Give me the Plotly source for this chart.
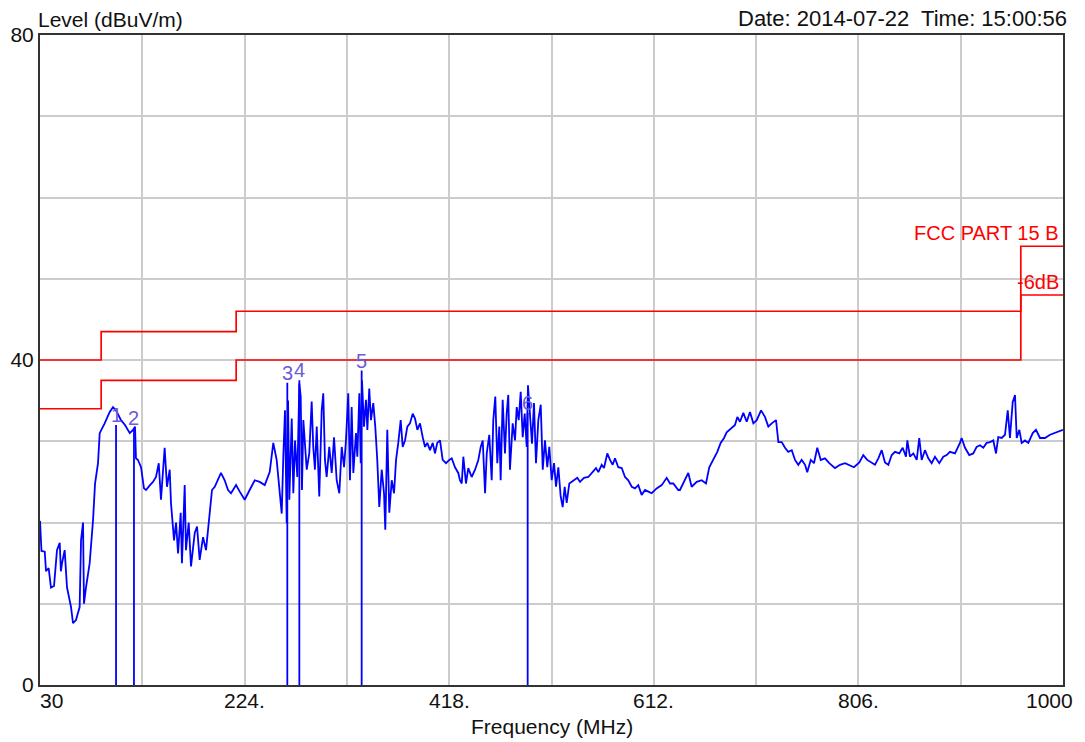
import plotly.graph_objects as go

# ---- data ----
freq_mhz = [
    30.0, 31.4, 34.5, 35.7, 38.2, 40.4, 43.3, 46.1, 48.7, 49.8, 50.9, 53.4, 55.6, 59.4, 61.3, 64.1,
    67.6, 68.9, 70.8, 71.7, 73.6, 77.1, 80.3, 82.2, 85.0, 86.6, 91.3, 96.1, 99.2, 102.1, 106.8, 110.6,
    115.1, 118.2, 120.1, 121.0, 122.9, 125.8, 128.6, 130.5, 134.3, 137.1, 140.0, 142.6, 144.7, 148.2,
    150.4, 153.0, 154.2, 157.1, 159.0, 160.9, 163.4, 164.6, 167.2, 168.4, 171.0, 173.2, 176.7, 178.9,
    181.4, 184.6, 187.4, 190.9, 193.1, 195.7, 198.8, 201.6, 205.1, 208.3, 211.1, 215.9, 219.4, 224.1,
    228.8, 233.6, 238.3, 243.1, 247.8, 251.2, 254.4, 256.9, 259.2, 260.7, 262.3, 263.9, 265.2, 266.4,
    268.7, 270.2, 271.8, 274.0, 275.9, 277.2, 278.4, 279.7, 281.3, 282.9, 285.3, 287.6, 289.1, 290.7,
    292.4, 294.8, 297.1, 298.6, 300.2, 301.8, 304.3, 306.6, 308.8, 311.3, 313.8, 316.1, 318.3, 320.1,
    322.3, 323.9, 325.5, 327.1, 329.6, 330.9, 332.8, 334.1, 335.3, 337.2, 339.1, 340.4, 342.2, 343.8,
    346.0, 347.9, 349.8, 351.7, 354.0, 356.2, 357.4, 359.3, 361.2, 363.5, 365.7, 367.6, 369.7, 372.0,
    373.9, 376.1, 378.3, 380.8, 383.4, 385.6, 387.8, 390.3, 392.9, 395.1, 397.2, 399.8, 402.4, 404.5,
    406.7, 409.3, 411.8, 415.0, 418.1, 420.4, 423.5, 426.6, 428.2, 429.9, 431.4, 433.9, 436.1, 439.3,
    442.5, 445.6, 447.9, 449.8, 452.0, 453.6, 456.0, 458.3, 459.8, 461.7, 463.6, 465.5, 466.8, 468.7,
    470.9, 472.5, 474.0, 475.6, 478.2, 480.4, 482.0, 483.9, 485.8, 487.7, 489.6, 491.5, 492.7, 494.6,
    496.5, 498.4, 500.3, 502.5, 504.8, 506.7, 508.8, 511.0, 512.9, 515.2, 517.4, 519.3, 521.5, 523.7,
    525.6, 527.5, 529.4, 531.9, 535.7, 539.5, 542.0, 545.8, 549.9, 553.1, 557.2, 559.4, 562.6, 564.8,
    567.9, 570.5, 573.0, 575.2, 578.3, 581.6, 584.7, 587.8, 591.1, 594.2, 597.3, 600.5, 603.7, 606.8,
    610.0, 614.7, 619.5, 624.2, 627.4, 630.5, 635.2, 636.8, 640.6, 644.7, 647.9, 652.7, 657.4, 661.5,
    664.6, 668.4, 672.2, 675.4, 678.6, 681.1, 685.9, 689.0, 691.2, 693.7, 696.9, 700.1, 703.2, 706.4,
    709.6, 713.7, 717.4, 720.6, 723.8, 727.9, 730.1, 733.3, 736.4, 739.5, 742.8, 745.9, 749.0, 752.2,
    755.4, 757.5, 760.8, 763.9, 767.0, 770.3, 774.3, 778.4, 783.8, 788.6, 793.3, 797.4, 801.8, 806.9,
    810.6, 814.4, 818.6, 821.7, 824.9, 828.1, 831.2, 834.4, 837.6, 840.7, 844.8, 848.0, 851.1, 852.4,
    854.9, 858.1, 861.3, 863.7, 866.0, 869.1, 872.3, 875.5, 878.6, 882.7, 886.5, 889.7, 892.8, 897.6,
    902.3, 903.9, 907.1, 911.1, 914.9, 918.1, 921.3, 924.4, 927.6, 930.8, 933.9, 936.5, 938.6, 941.9,
    945.0, 947.6, 949.7, 952.3, 954.5, 956.1, 958.6, 960.8, 964.0, 967.1, 971.3, 974.4, 978.2, 982.9,
    987.7, 992.4, 998.8, 1000.0,
]
level_dbuv = [
    20.2, 16.5, 16.4, 14.0, 14.4, 12.0, 12.2, 16.6, 17.5, 14.0, 15.0, 16.6, 12.0, 9.6, 7.6, 8.0,
    9.6, 17.8, 20.0, 10.0, 12.0, 15.0, 20.3, 24.8, 27.3, 31.0, 32.2, 33.6, 34.2, 33.8, 32.6, 32.0,
    31.0, 31.4, 31.8, 27.9, 27.7, 26.8, 24.2, 24.0, 24.6, 25.0, 25.6, 27.3, 22.8, 29.2,
    24.4, 26.5, 22.4, 17.8, 20.0, 16.2, 21.2, 15.0, 24.6, 16.6, 20.0, 14.6, 18.7, 19.5,
    15.4, 18.2, 16.6, 20.7, 24.0, 24.4, 25.2, 26.1, 25.2, 24.0, 23.6, 24.6, 23.8, 22.8,
    24.0, 25.2, 25.0, 24.6, 26.2, 29.8, 27.7, 24.4, 21.1, 28.1, 33.8, 19.9, 35.0, 22.8,
    32.8, 23.6, 30.1, 25.6, 37.1, 35.5, 24.0, 32.6, 29.3, 26.5, 28.5, 34.9, 29.3, 26.5,
    31.8, 23.2, 33.8, 35.9, 27.7, 25.6, 29.3, 26.1, 30.5, 25.2, 23.6, 29.3, 26.8, 30.1,
    35.9, 25.2, 34.2, 26.1, 31.0, 28.1, 35.9, 27.3, 37.5, 31.8, 35.1, 31.4, 36.5, 32.6,
    34.7, 31.8, 27.7, 21.9, 26.5, 23.6, 19.1, 31.4, 21.2, 25.2, 23.6, 27.7, 29.8, 32.6,
    29.3, 30.1, 31.8, 32.2, 33.4, 32.8, 31.4, 32.2, 30.5, 29.3, 29.8, 28.9, 29.8, 28.5,
    29.8, 30.1, 27.7, 27.3, 27.7, 27.9, 26.8, 26.1, 25.2, 24.8, 28.1, 24.8, 26.7, 25.6,
    26.5, 27.7, 29.3, 30.1, 23.6, 28.5, 30.8, 25.2, 32.6, 35.5, 27.3, 31.8, 25.2, 35.1,
    28.5, 33.4, 35.7, 26.5, 32.2, 30.1, 34.2, 32.6, 36.1, 30.5, 33.4, 29.3, 36.9, 32.6,
    29.7, 34.7, 27.3, 32.6, 34.5, 26.5, 30.1, 26.8, 29.3, 25.2, 27.3, 24.4, 26.8, 23.2,
    21.9, 24.4, 22.4, 24.8, 25.2, 25.5, 25.0, 25.5, 25.6, 26.1, 26.7, 26.2, 27.1, 26.7,
    28.5, 27.7, 27.1, 27.9, 26.8, 26.7, 25.6, 25.2, 24.4, 24.2, 24.6, 23.4, 24.0, 23.8,
    23.6, 24.2, 24.6, 25.5, 24.8, 24.8, 24.0, 24.0, 25.0, 26.1, 24.4, 25.0, 25.2, 24.8,
    26.8, 27.7, 28.7, 29.8, 30.4, 31.1, 31.6, 32.0, 33.0, 32.4, 33.5, 32.4, 33.6, 32.2,
    32.6, 33.8, 33.0, 31.8, 32.2, 32.6, 29.9, 29.9, 29.2, 28.7, 28.9, 27.7, 27.1, 27.7,
    27.1, 26.2, 27.7, 27.3, 29.2, 27.7, 27.9, 27.3, 26.7, 27.1, 27.3, 27.1, 26.8, 27.4,
    28.3, 27.7, 27.4, 27.1, 27.9, 28.9, 27.4, 27.1, 28.3, 28.7, 28.5, 29.2, 28.1, 30.1,
    28.1, 28.5, 27.7, 30.4, 27.7, 28.9, 27.9, 27.3, 28.1, 27.3, 28.1, 28.3, 28.7, 28.5,
    29.8, 30.4, 29.2, 28.3, 28.5, 29.3, 29.5, 29.2, 29.8, 29.9, 30.1, 28.5, 30.5, 30.4,
    30.8, 33.8, 30.4, 34.8, 35.7, 30.4, 31.4, 29.8, 30.1, 29.8, 31.0, 31.4, 30.4, 30.4,
    30.8, 31.0, 31.3, 31.4,
]

limit_freq = [30, 88, 216, 960, 1000]
limit_level = [40.0, 43.5, 46.0, 54.0, 54.0]
margin_level = [34.0, 37.5, 40.0, 48.0, 48.0]

marker_labels = ["1", "2", "3", "4", "5", "6"]
marker_freq = [102.1, 119.1, 264.5, 275.9, 335.0, 492.4]
marker_level = [32.0, 31.6, 37.2, 37.5, 38.7, 33.5]

x_tick_vals = [30, 224, 418, 612, 806, 1000]
x_tick_text = ["30", "224.", "418.", "612.", "806.", "1000"]
x_grid_vals = [30, 127, 224, 321, 418, 515, 612, 709, 806, 903, 1000]
y_tick_vals = [0, 10, 20, 30, 40, 50, 60, 70, 80]
y_tick_text = ["0", "", "", "", "40", "", "", "", "80"]

FONT = "Liberation Sans, Arial, sans-serif"
BLUE = "#0000ff"
RED = "#ff0000"
MARK = "#6b5bd6"
TXT = "#111111"

fig = go.Figure()

fig.add_trace(go.Scatter(x=limit_freq, y=limit_level, mode="lines", line=dict(color=RED, width=1.7, shape="hv"),
                         hoverinfo="skip"))
fig.add_trace(go.Scatter(x=limit_freq, y=margin_level, mode="lines", line=dict(color=RED, width=1.7, shape="hv"),
                         hoverinfo="skip"))

fig.add_trace(go.Scatter(x=freq_mhz, y=level_dbuv, mode="lines", line=dict(color=BLUE, width=1.8)))

mx, my = [], []
for f, v in zip(marker_freq, marker_level):
    mx += [f, f, None]
    my += [0, v, None]
fig.add_trace(go.Scatter(x=mx, y=my, mode="lines", line=dict(color=BLUE, width=1.8), hoverinfo="skip"))

annotations = []
for lab, f, v in zip(marker_labels, marker_freq, marker_level):
    annotations.append(dict(x=f, y=v, xref="x", yref="y", text=lab, showarrow=False,
                            yanchor="middle", yshift=10, font=dict(family=FONT, size=20, color=MARK)))

for i, (tv, tt) in enumerate(zip(x_tick_vals, x_tick_text)):
    if i == 0:
        anchor, xs = "left", -2
    elif i == len(x_tick_vals) - 1:
        anchor, xs = "right", 12
    else:
        anchor, xs = "center", 0
    annotations.append(dict(x=tv, y=0, xref="x", yref="paper", text=tt, showarrow=False,
                            xanchor=anchor, yanchor="top", xshift=xs, yshift=-2,
                            font=dict(family=FONT, size=21, color=TXT)))

annotations += [
    dict(x=0, y=1, xref="paper", yref="paper", text="Level (dBuV/m)", showarrow=False,
         xanchor="left", yanchor="bottom", xshift=-4, yshift=2,
         font=dict(family=FONT, size=21, color=TXT)),
    dict(x=1, y=1, xref="paper", yref="paper", text="Date: 2014-07-22  Time: 15:00:56", showarrow=False,
         xanchor="right", yanchor="bottom", xshift=6, yshift=2,
         font=dict(family=FONT, size=22, color=TXT)),
    dict(x=0.5, y=0, xref="paper", yref="paper", text="Frequency (MHz)", showarrow=False,
         xanchor="center", yanchor="top", yshift=-28,
         font=dict(family=FONT, size=21, color=TXT)),
    dict(x=1000, y=54, xref="x", yref="y", text="FCC PART 15 B", showarrow=False,
         xanchor="right", yanchor="bottom", xshift=-2, yshift=0,
         font=dict(family=FONT, size=20, color=RED)),
    dict(x=1000, y=48, xref="x", yref="y", text="-6dB", showarrow=False,
         xanchor="right", yanchor="bottom", xshift=-2, yshift=0,
         font=dict(family=FONT, size=20, color=RED)),
]

fig.update_layout(
    width=1085, height=742,
    margin=dict(l=40, r=22, t=35, b=57),
    paper_bgcolor="white", plot_bgcolor="white",
    showlegend=False,
    annotations=annotations,
    font=dict(family=FONT, size=21, color=TXT),
)
fig.update_xaxes(range=[30, 1000], tickmode="array", tickvals=x_grid_vals, showticklabels=False,
                 showgrid=True, gridcolor="#cccccc", gridwidth=2, zeroline=False, automargin=False,
                 showline=True, linecolor="#333333", linewidth=2, mirror=True, ticks="")
fig.update_yaxes(range=[0, 80], tickmode="array", tickvals=y_tick_vals, ticktext=y_tick_text,
                 showgrid=True, gridcolor="#cccccc", gridwidth=2, zeroline=False, automargin=False,
                 showline=True, linecolor="#333333", linewidth=2, mirror=True, ticks="",
                 tickfont=dict(family=FONT, size=21, color=TXT))

# remove the page's default body margin so the figure fills the window exactly
fig.write_html(
    "out.html",
    config={"displayModeBar": False},
    post_script="document.body.style.margin='0';document.body.style.padding='0';"
                "document.body.style.overflow='hidden';document.documentElement.style.overflow='hidden';",
)
